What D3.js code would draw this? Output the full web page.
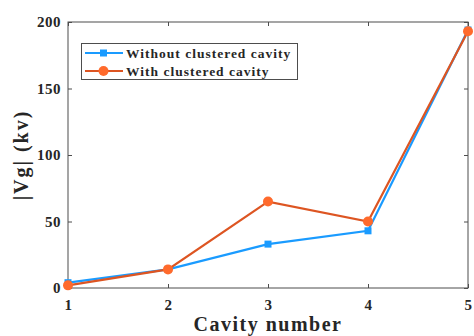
<!DOCTYPE html>
<html>
<head>
<meta charset="utf-8">
<script src="https://cdn.jsdelivr.net/npm/d3@7"></script>
<style>
body { margin: 0; background: #fff; }
text { font-family: "Liberation Serif", "Times New Roman", serif; font-weight: bold; fill: #262626; }
</style>
</head>
<body>
<script>
const cavities = [1, 2, 3, 4, 5]
const withoutCluster = [4, 14, 33, 43, 194]
const withCluster = [2, 14, 65, 50, 193]
const yTicks = [0, 50, 100, 150, 200]
const seriesNames = ["Without clustered cavity", "With clustered cavity"]

const width = 474
const height = 336
const margin = {top: 22, right: 6, bottom: 48, left: 68}

const sx = d3.scaleLinear()
    .domain([1, 5])
    .range([margin.left, width - margin.right])

const sy = d3.scaleLinear()
    .domain([0, 200])
    .range([height - margin.bottom, margin.top])

let svg = d3.select("body")
    .append("svg")
    .attr("width", width)
    .attr("height", height)

const axisColor = "#4d4d4d"

// box + ticks
const x0 = sx.range()[0], x1 = sx.range()[1]
const y0 = sy.range()[0], y1 = sy.range()[1]

svg.append("rect")
    .attr("x", x0).attr("y", y1)
    .attr("width", x1 - x0).attr("height", y0 - y1)
    .attr("fill", "none")
    .attr("stroke", axisColor)
    .attr("stroke-width", 1)

let xAxis = svg.append("g")
    .attr("transform", `translate(0,${y0})`)
    .call(d3.axisBottom(sx).tickValues(cavities).tickFormat(d3.format("d")).tickSizeInner(-4).tickSizeOuter(0).tickPadding(11))
let xAxisTop = svg.append("g")
    .attr("transform", `translate(0,${y1})`)
    .call(d3.axisTop(sx).tickValues(cavities).tickFormat("").tickSizeInner(-4).tickSizeOuter(0))
let yAxis = svg.append("g")
    .attr("transform", `translate(${x0},0)`)
    .call(d3.axisLeft(sy).tickValues(yTicks).tickSizeInner(-4).tickSizeOuter(0).tickPadding(7))
let yAxisRight = svg.append("g")
    .attr("transform", `translate(${x1},0)`)
    .call(d3.axisRight(sy).tickValues(yTicks).tickFormat("").tickSizeInner(-4).tickSizeOuter(0))

svg.selectAll(".domain").remove()
svg.selectAll(".tick line").attr("stroke", axisColor)
svg.selectAll(".tick text")
    .style("font-family", "'Liberation Serif', serif")
    .style("font-weight", "bold")
    .style("font-size", "15px")
    .style("letter-spacing", "0.5px")
    .attr("fill", "#262626")

// axis labels
svg.append("text")
    .attr("x", (x0 + x1) / 2)
    .attr("y", 331)
    .attr("text-anchor", "middle")
    .style("font-size", "20px")
    .style("letter-spacing", "1.5px")
    .text("Cavity number")

svg.append("text")
    .attr("transform", `translate(28,${(y0 + y1) / 2}) rotate(-90)`)
    .attr("text-anchor", "middle")
    .style("font-size", "20px")
    .style("letter-spacing", "2px")
    .text("|Vg| (kv)")

// lines
const blue = "#1a9bff"
const orangeLine = "#dd5522"
const orangeMark = "#ff6a2c"

let line = d3.line()
    .x((d, i) => sx(cavities[i]))
    .y(d => sy(d))

svg.append("path")
    .datum(withoutCluster)
    .attr("d", line)
    .attr("fill", "none")
    .attr("stroke", blue)
    .attr("stroke-width", 2.2)

svg.append("g")
    .selectAll("rect")
    .data(withoutCluster)
    .enter().append("rect")
    .attr("x", (d, i) => sx(cavities[i]) - 3.5)
    .attr("y", d => sy(d) - 3.5)
    .attr("width", 7)
    .attr("height", 7)
    .attr("fill", blue)

svg.append("path")
    .datum(withCluster)
    .attr("d", line)
    .attr("fill", "none")
    .attr("stroke", orangeLine)
    .attr("stroke-width", 2.2)

svg.append("g")
    .selectAll("circle")
    .data(withCluster)
    .enter().append("circle")
    .attr("cx", (d, i) => sx(cavities[i]))
    .attr("cy", d => sy(d))
    .attr("r", 5)
    .attr("fill", orangeMark)

// legend
let legend = svg.append("g")
legend.append("rect")
    .attr("x", 81.5).attr("y", 43.5)
    .attr("width", 216).attr("height", 36)
    .attr("fill", "#fff")
    .attr("stroke", axisColor)
    .attr("stroke-width", 1)

seriesNames.forEach((name, i) => {
    const y = 53 + i * 18
    const col = i === 0 ? blue : orangeLine
    legend.append("line")
        .attr("x1", 85).attr("x2", 123)
        .attr("y1", y).attr("y2", y)
        .attr("stroke", col)
        .attr("stroke-width", 2.2)
    if (i === 0) {
        legend.append("rect")
            .attr("x", 100).attr("y", y - 3.5)
            .attr("width", 7).attr("height", 7)
            .attr("fill", blue)
    } else {
        legend.append("circle")
            .attr("cx", 103.5).attr("cy", y)
            .attr("r", 5)
            .attr("fill", orangeMark)
    }
    legend.append("text")
        .attr("x", 126)
        .attr("y", y + 4.5)
        .style("font-size", "13.5px")
        .style("letter-spacing", "1px")
        .text(name)
})
</script>
</body>
</html>
